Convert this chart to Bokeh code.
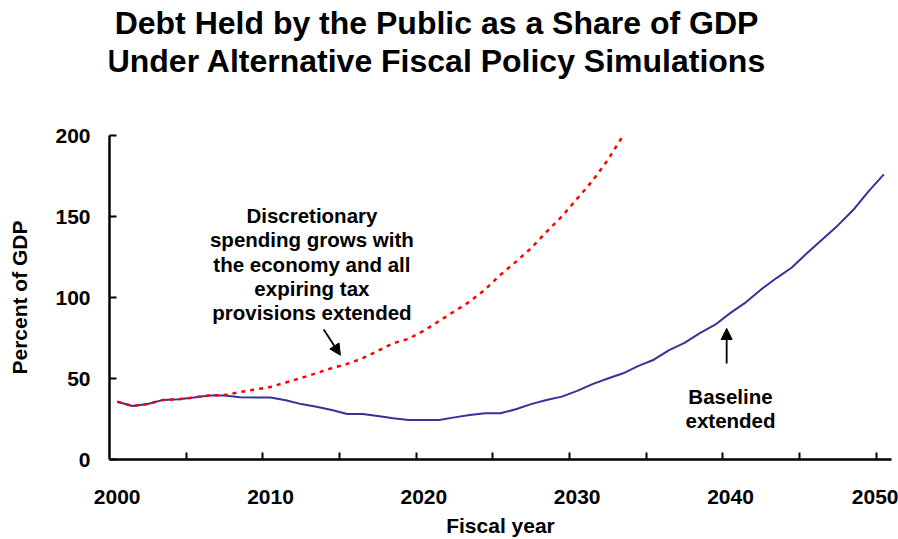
from bokeh.plotting import figure
from bokeh.layouts import column
from bokeh.models import Range1d, FixedTicker, Arrow, NormalHead, ColumnDataSource
from bokeh.core.properties import value
from bokeh.embed import file_html
from bokeh.resources import INLINE

FONT = "Liberation Sans"

title_lines = ["Debt Held by the Public as a Share of GDP",
               "Under Alternative Fiscal Policy Simulations"]
# title block is laid out in its own pixel-space header figure
title_x = [436, 436]
title_y = [22.0, 60.3]
x_axis_title = "Fiscal year"
y_axis_title = "Percent of GDP"

baseline_years = list(range(2000, 2051))
baseline_values = [35.7, 33.0, 34.3, 36.8, 37.2, 38.3, 39.5, 39.5, 38.4, 38.3,
                   38.3, 36.6, 34.2, 32.6, 30.6, 28.1, 28.1, 26.8, 25.5, 24.4,
                   24.4, 24.4, 26.0, 27.5, 28.5, 28.5, 31.0, 34.2, 36.7, 38.8,
                   42.4, 46.5, 50.0, 53.2, 57.8, 61.6, 67.5, 72.0, 78.0, 83.2,
                   90.5, 97.0, 105.0, 112.0, 118.5, 127.5, 136.0, 144.5, 154.0, 165.5,
                   176.0]

alt_years = list(range(2000, 2034))
alt_values = [35.7, 33.0, 34.3, 36.8, 37.2, 38.3, 39.5, 39.8, 41.6, 43.2,
              44.8, 47.5, 50.3, 53.3, 56.4, 59.0, 62.5, 67.0, 71.8, 74.5,
              79.5, 85.5, 91.5, 97.5, 105.0, 114.0, 122.0, 130.5, 140.5, 150.0,
              161.0, 172.0, 185.0, 200.0]

x_label_years = [2000, 2010, 2020, 2030, 2040, 2050]
x_tick_marks = [2004.5, 2009.5, 2014.5, 2019.5, 2024.5, 2029.5, 2034.5, 2039.5, 2044.5, 2049.5]
y_ticks = [0, 50, 100, 150, 200]

alt_note_lines = ["Discretionary", "spending grows with", "the economy and all",
                  "expiring tax", "provisions extended"]
alt_note_x = 2012.7
alt_note_y = [150.5, 135.5, 120.5, 105.6, 90.6]
alt_arrow = (2013.47, 80.2, 2014.56, 64.4)

base_note_lines = ["Baseline", "extended"]
base_note_x = 2040.0
base_note_y = [38.8, 23.8]
base_arrow = (2039.75, 59.3, 2039.75, 80.9)

BLUE = "#333399"
RED = "#FF0000"

HEAD_H = 123
FRAME_L, FRAME_R = 109, 891

# ---- header (title) ----
head = figure(width=898, height=HEAD_H, output_backend="svg", toolbar_location=None,
              x_range=Range1d(FRAME_L, FRAME_R), y_range=Range1d(HEAD_H, 0),
              x_axis_type=None, y_axis_type=None,
              min_border_left=0, min_border_right=0, min_border_top=0, min_border_bottom=0)
head.outline_line_color = None
head.grid.visible = False
head.background_fill_color = "white"
head.border_fill_color = "white"
hsrc = ColumnDataSource(dict(x=title_x, y=title_y, t=title_lines))
head.text(x="x", y="y", text="t", source=hsrc, text_align="center", text_baseline="alphabetic",
          text_font=value(FONT), text_font_size="32px", text_font_style="bold", text_color="black")

# ---- main chart ----
p = figure(width=898, height=539 - HEAD_H, output_backend="svg", toolbar_location=None,
           x_range=Range1d(1999.5, 2050.5), y_range=Range1d(0, 200),
           min_border_left=FRAME_L, min_border_right=898 - FRAME_R, min_border_bottom=80,
           min_border_top=12)
p.outline_line_color = None
p.grid.visible = False
p.background_fill_color = "white"
p.border_fill_color = "white"

p.line(baseline_years, baseline_values, line_color=BLUE, line_width=2)
p.line(alt_years, alt_values, line_color=RED, line_width=2.5, line_dash="4 5")

xa = p.xaxis[0]
xa.ticker = FixedTicker(ticks=x_label_years, minor_ticks=x_tick_marks)
xa.major_tick_line_color = None
xa.minor_tick_in = 7
xa.minor_tick_out = 0
xa.minor_tick_line_width = 2
xa.minor_tick_line_color = "black"
xa.axis_line_width = 2.5
xa.axis_line_color = "black"
xa.major_label_standoff = 24
xa.major_label_text_font = FONT
xa.major_label_text_font_size = "21px"
xa.major_label_text_font_style = "bold"
xa.major_label_text_color = "black"
xa.axis_label = x_axis_title
xa.axis_label_text_font = FONT
xa.axis_label_text_font_size = "21px"
xa.axis_label_text_font_style = "bold"
xa.axis_label_text_color = "black"
xa.axis_label_standoff = 7

ya = p.yaxis[0]
ya.ticker = FixedTicker(ticks=y_ticks, minor_ticks=[])
ya.major_tick_in = 7
ya.major_tick_out = 0
ya.major_tick_line_width = 2
ya.major_tick_line_color = "black"
ya.axis_line_width = 2.5
ya.axis_line_color = "black"
ya.major_label_standoff = 19
ya.major_label_text_font = FONT
ya.major_label_text_font_size = "21px"
ya.major_label_text_font_style = "bold"
ya.major_label_text_color = "black"
ya.axis_label = y_axis_title
ya.axis_label_text_font = FONT
ya.axis_label_text_font_size = "21px"
ya.axis_label_text_font_style = "bold"
ya.axis_label_text_color = "black"
ya.axis_label_standoff = 21

alt_src = ColumnDataSource(dict(x=[alt_note_x] * len(alt_note_lines), y=alt_note_y, t=alt_note_lines))
p.text(x="x", y="y", text="t", source=alt_src, text_align="center", text_baseline="alphabetic",
       text_font=value(FONT), text_font_size="20.5px", text_font_style="bold", text_color="black")
base_src = ColumnDataSource(dict(x=[base_note_x] * len(base_note_lines), y=base_note_y, t=base_note_lines))
p.text(x="x", y="y", text="t", source=base_src, text_align="center", text_baseline="alphabetic",
       text_font=value(FONT), text_font_size="20.5px", text_font_style="bold", text_color="black")

for (x0, y0, x1, y1) in (alt_arrow, base_arrow):
    p.add_layout(Arrow(x_start=x0, y_start=y0, x_end=x1, y_end=y1, line_color="black", line_width=1.8,
                       end=NormalHead(size=11, fill_color="black", line_color="black", line_width=1)))

layout = column(head, p, spacing=0)
open("out.html", "w").write(file_html(layout, INLINE))
